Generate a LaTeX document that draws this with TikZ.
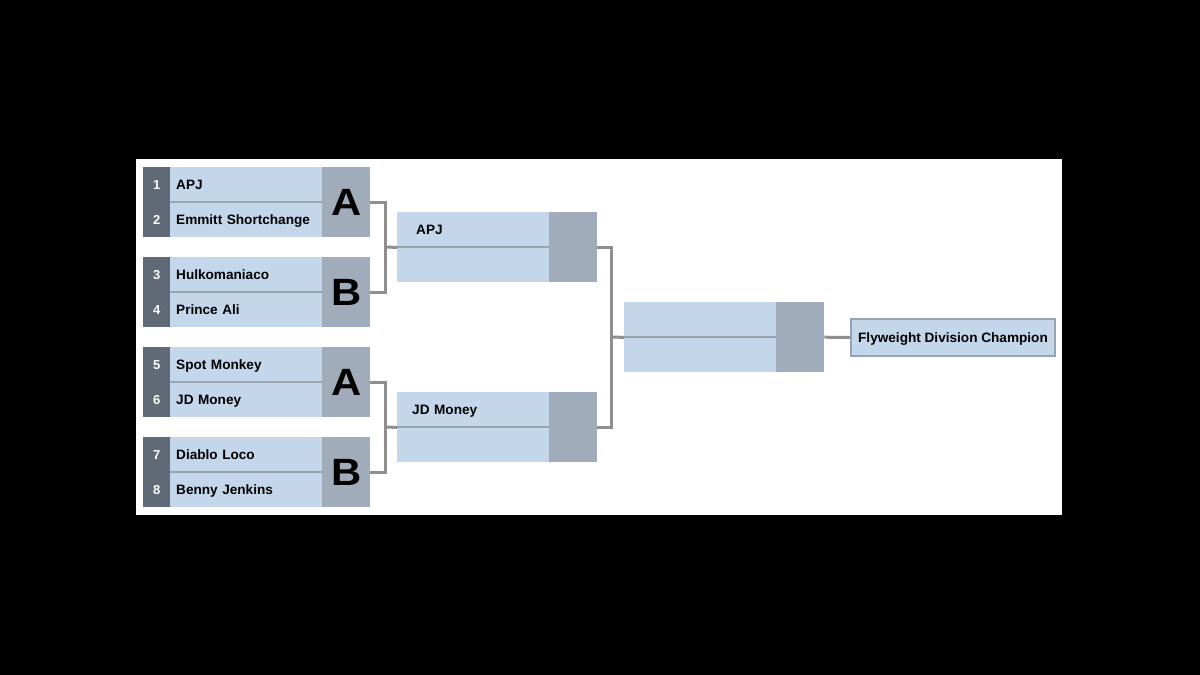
\documentclass[tikz,border=0pt]{standalone}
\usepackage{fontspec}
\setmainfont{Liberation Sans}
\definecolor{rowblue}{HTML}{C3D6EA}
\definecolor{slatebox}{HTML}{A0ACB9}
\definecolor{seeddark}{HTML}{5F6A76}
\definecolor{divgrey}{HTML}{97A3AF}
\definecolor{linkgrey}{HTML}{8F8F8F}
\tikzset{
  seedbox/.style={anchor=north west, fill=seeddark, text=white, minimum width=27pt, minimum height=35pt, inner sep=0pt, text height=9.5pt, text depth=0pt, font=\fontsize{13}{15}\selectfont\bfseries},
  namebox/.style={anchor=north west, fill=rowblue, minimum height=35pt, text width=140pt, inner xsep=6pt, inner ysep=0pt, align=left, text height=9.7pt, text depth=0pt, font=\fontsize{13.6}{16}\selectfont\bfseries},
  letterbox/.style={anchor=north west, fill=slatebox, minimum width=48pt, minimum height=70pt, inner sep=0pt, text height=27pt, text depth=0pt, font=\fontsize{38}{38}\selectfont\bfseries},
  champbox/.style={anchor=north west, fill=rowblue, draw=divgrey, line width=2pt, minimum width=204pt, minimum height=37pt, inner sep=0pt, text height=9.7pt, text depth=0pt, font=\fontsize{13.6}{16}\selectfont\bfseries},
  divider/.style={divgrey, line width=2pt},
  link/.style={linkgrey, line width=3pt}
}
\begin{document}
\begin{tikzpicture}[x=1pt,y=-1pt]
\useasboundingbox (0,0) rectangle (1200,675);
\fill[black] (0,0) rectangle (1200,675);
\fill[white] (136,159) rectangle (1062,515);

% first round
\node[seedbox] (s1) at (143,167) {1};
\node[seedbox] (s2) at (143,202) {2};
\node[namebox] (n1) at (170,167) {APJ};
\node[namebox] (n2) at (170,202) {Emmitt Shortchange};
\node[letterbox] (l1) at (322,167) {\scalebox{1.1}[1]{A}};
\path[draw,divider] (n1.south west) -- (n1.south east);

\node[seedbox] (s3) at (143,257) {3};
\node[seedbox] (s4) at (143,292) {4};
\node[namebox] (n3) at (170,257) {Hulkomaniaco};
\node[namebox] (n4) at (170,292) {Prince Ali};
\node[letterbox] (l2) at (322,257) {\scalebox{1.1}[1]{B}};
\path[draw,divider] (n3.south west) -- (n3.south east);

\node[seedbox] (s5) at (143,347) {5};
\node[seedbox] (s6) at (143,382) {6};
\node[namebox] (n5) at (170,347) {Spot Monkey};
\node[namebox] (n6) at (170,382) {JD Money};
\node[letterbox] (l3) at (322,347) {\scalebox{1.1}[1]{A}};
\path[draw,divider] (n5.south west) -- (n5.south east);

\node[seedbox] (s7) at (143,437) {7};
\node[seedbox] (s8) at (143,472) {8};
\node[namebox] (n7) at (170,437) {Diablo Loco};
\node[namebox] (n8) at (170,472) {Benny Jenkins};
\node[letterbox] (l4) at (322,437) {\scalebox{1.1}[1]{B}};
\path[draw,divider] (n7.south west) -- (n7.south east);

% second round
\node[namebox] (w1) at (397,212) {\hspace*{13pt}APJ};
\node[namebox] (w2) at (397,247) {};
\node[letterbox] (g1) at (549,212) {};
\path[draw,divider] (w1.south west) -- (w1.south east);

\node[namebox] (w3) at (397,392) {\hspace*{9pt}JD Money};
\node[namebox] (w4) at (397,427) {};
\node[letterbox] (g2) at (549,392) {};
\path[draw,divider] (w3.south west) -- (w3.south east);

% final
\node[namebox] (f1) at (624,302) {};
\node[namebox] (f2) at (624,337) {};
\node[letterbox] (g3) at (776,302) {};
\path[draw,divider] (f1.south west) -- (f1.south east);

\node[champbox] (champ) at (850,318) {Flyweight Division Champion};

% connectors
\coordinate (j1) at (385,247);
\coordinate (j2) at (385,427);
\coordinate (j3) at (611,337);
\path[draw,link] (l1.east) -| (j1);
\path[draw,link] (l2.east) -| (j1);
\path[draw,link] (j1) -- (w1.south west);
\path[draw,link] (l3.east) -| (j2);
\path[draw,link] (l4.east) -| (j2);
\path[draw,link] (j2) -- (w3.south west);
\path[draw,link] (g1.east) -| (j3);
\path[draw,link] (g2.east) -| (j3);
\path[draw,link] (j3) -- (f1.south west);
\path[draw,link] (g3.east) -- (champ.west);
\end{tikzpicture}
\end{document}
